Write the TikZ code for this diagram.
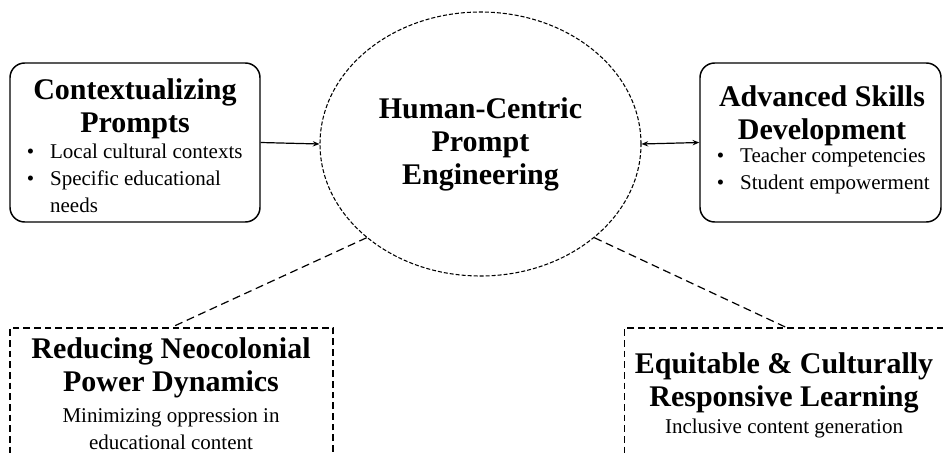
\documentclass[tikz,border=0pt]{standalone}
\usepackage{fontspec}
\setmainfont{Liberation Serif}
\usepackage{tikz}
\usetikzlibrary{arrows.meta,shapes.geometric}

\newcommand{\headfont}{\fontsize{22.5}{24.75}\selectfont\bfseries}
\newcommand{\bodyfont}{\fontsize{15.75}{20}\selectfont}
\newcommand{\notefont}{\fontsize{15.75}{20.25}\selectfont}

\tikzset{
  roundbox/.style={draw, line width=1.1pt, rounded corners=11pt, minimum height=119.25pt, inner sep=0pt},
  hubnode/.style={ellipse, draw, line width=0.8pt, dash pattern=on 3pt off 1.5pt, minimum width=240.75pt, minimum height=198pt, inner sep=0pt, align=center, font=\headfont},
  dashbox/.style={draw, line width=1pt, dash pattern=on 5pt off 3pt, minimum width=242.25pt, minimum height=106.5pt, inner sep=0pt},
  headtext/.style={align=center, font=\headfont, inner sep=0pt},
  notetext/.style={align=center, font=\notefont, inner sep=0pt},
  listtext/.style={anchor=north west, font=\bodyfont, inner sep=0pt},
  linkline/.style={line width=0.9pt, dash pattern=on 6pt off 3.5pt},
  flowarrow/.style={line width=0.9pt, -{Stealth[length=5pt,width=4pt]}},
  twoarrow/.style={line width=0.9pt, {Stealth[length=5pt,width=4pt]}-{Stealth[length=5pt,width=4pt]}}
}

\begin{document}
\begin{tikzpicture}[x=0.75pt,y=0.75pt,yscale=-1,xscale=1]
\clip (0,0) rectangle (943,453);
\node (hub) [hubnode] at (480.5,144) {Human-Centric\\Prompt\\Engineering};
\node (ctx) [roundbox, minimum width=187.5pt] at (135,142.5) {};
\node (adv) [roundbox, minimum width=180.75pt] at (820.5,142.5) {};
\node (red) [dashbox] at (171.5,399) {};
\node (eq) [dashbox] at (786,399) {};
\node (ctxhead) [headtext] at (135,109) {Contextualizing\\Prompts};
\node (ctxlist) [listtext] at (26.5,140) {\begin{tabular}{@{}l@{\hspace{12pt}}l@{}}\textbullet & Local cultural contexts\\ \textbullet & Specific educational\\ & needs\end{tabular}};
\node (advhead) [headtext] at (822,116) {Advanced Skills\\Development};
\node (advlist) [listtext] at (716.5,144) {\begin{tabular}{@{}l@{\hspace{12pt}}l@{}}\textbullet & Teacher competencies\\ \textbullet & Student empowerment\end{tabular}};
\node (redhead) [headtext] at (171,368) {Reducing Neocolonial\\Power Dynamics};
\node (rednote) [notetext] at (171,429) {Minimizing oppression in\\educational content};
\node (eqhead) [headtext] at (784,383) {Equitable \& Culturally\\Responsive Learning};
\node (eqnote) [notetext] at (784,428) {Inclusive content generation};
\draw [flowarrow] (ctx.east) -- (hub.west);
\draw [twoarrow] (hub.east) -- (adv.west);
\draw [linkline] (hub.south west) -- (red.north);
\draw [linkline] (hub.south east) -- (eq.north);
\end{tikzpicture}
\end{document}
